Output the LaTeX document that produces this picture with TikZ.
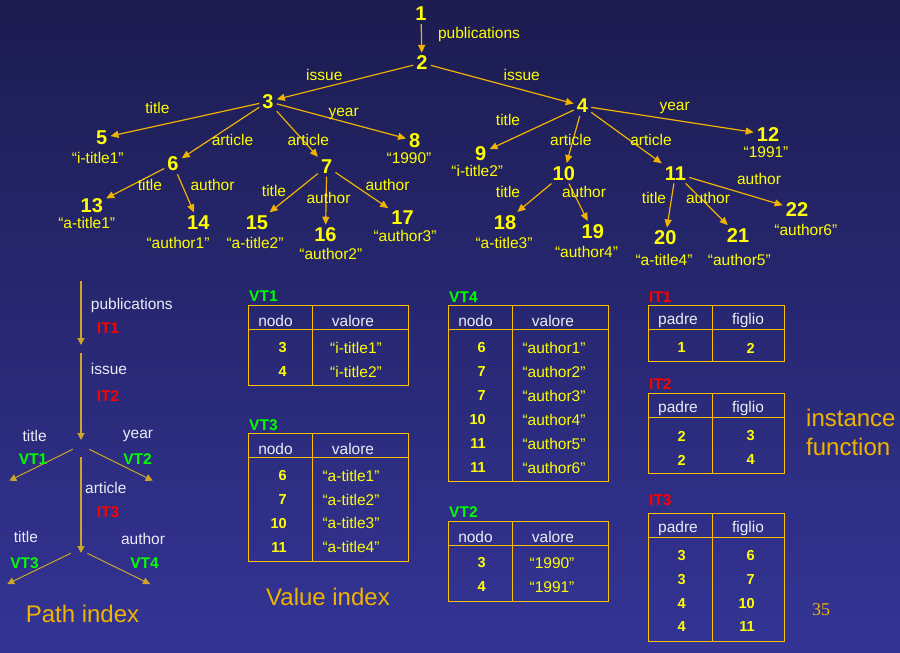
\documentclass[tikz,border=0pt]{standalone}
\usepackage{fontspec}
\setmainfont{Liberation Sans}
\newfontfamily\serifnum{Liberation Serif}
\usetikzlibrary{arrows.meta}
\definecolor{bgtop}{RGB}{28,28,80}
\definecolor{bgbot}{RGB}{52,52,150}
\definecolor{gold}{RGB}{240,180,0}
\definecolor{tabgold}{RGB}{255,192,0}
\definecolor{pathgold}{RGB}{205,165,40}
\definecolor{yel}{RGB}{255,255,0}
\definecolor{grn}{RGB}{0,255,0}
\definecolor{rd}{RGB}{255,0,0}
\definecolor{wht}{RGB}{235,235,245}
\begin{document}
\begin{tikzpicture}[x=1pt,y=-1pt,
 num/.style={font=\fontsize{20}{20}\selectfont\bfseries, text=yel, inner sep=3pt},
 val/.style={font=\fontsize{15.5}{16}\selectfont, text=yel, inner sep=0pt},
 elab/.style={font=\fontsize{15.5}{16}\selectfont, text=yel, inner sep=0pt},
 arr/.style={draw=gold, line width=1.2pt, -{Triangle[length=8pt,width=7pt]}},
 parr/.style={draw=pathgold, line width=1.2pt, -{Triangle[length=7pt,width=7pt]}},
 plab/.style={font=\fontsize{15.5}{16}\selectfont, text=wht, inner sep=0pt},
 itlab/.style={font=\fontsize{15.5}{16}\selectfont\bfseries, text=rd, inner sep=0pt},
 vtlab/.style={font=\fontsize{15.5}{16}\selectfont\bfseries, text=grn, inner sep=0pt},
 big/.style={font=\fontsize{24}{26}\selectfont, text=gold, inner sep=0pt},
 tab/.style={draw=tabgold, line width=1pt},
 thd/.style={font=\fontsize{15.5}{16}\selectfont, text=wht, inner sep=0pt},
 tnum/.style={font=\fontsize{14.5}{15}\selectfont\bfseries, text=yel, inner sep=0pt, anchor=east},
 tval/.style={font=\fontsize{15.5}{16}\selectfont, text=yel, inner sep=0pt},
]
\useasboundingbox (0,0) rectangle (900,653);
\shade[top color=bgtop, bottom color=bgbot] (0,0) rectangle (900,653);

% ---------- tree nodes ----------
\node[num] (n1) at (421,14) {1};
\node[num] (n2) at (422,63) {2};
\node[num] (n3) at (268,101.5) {3};
\node[num] (n4) at (582.5,106) {4};
\node[num] (n5) at (101.7,138) {5};
\node[num] (n6) at (173,164) {6};
\node[num] (n7) at (326.7,166.5) {7};
\node[num] (n8) at (414.8,140.8) {8};
\node[num] (n9) at (480.8,153.3) {9};
\node[num] (n10) at (563.8,173.3) {10};
\node[num] (n11) at (675.5,173.3) {11};
\node[num] (n12) at (768,134.5) {12};
\node[num] (n13) at (91.8,205.8) {13};
\node[num] (n14) at (198.3,222.5) {14};
\node[num] (n15) at (257,222.5) {15};
\node[num] (n16) at (325.5,235) {16};
\node[num] (n17) at (402.5,217.8) {17};
\node[num] (n18) at (505,222.2) {18};
\node[num] (n19) at (592.8,231.2) {19};
\node[num] (n20) at (665.3,237.8) {20};
\node[num] (n21) at (738,235.3) {21};
\node[num] (n22) at (797,209.5) {22};

\node[val] (v5) at (97.8,158) {“i-title1”};
\node[val] (v8) at (409,158) {“1990”};
\node[val] (v9) at (477.3,170.8) {“i-title2”};
\node[val] (v12) at (766,152) {“1991”};
\node[val] (v13) at (86.7,223) {“a-title1”};
\node[val] (v14) at (178,242.5) {“author1”};
\node[val] (v15) at (255,242.5) {“a-title2”};
\node[val] (v16) at (330.8,253.7) {“author2”};
\node[val] (v17) at (405,235.5) {“author3”};
\node[val] (v18) at (504,243.3) {“a-title3”};
\node[val] (v19) at (586.5,251.7) {“author4”};
\node[val] (v20) at (664,260) {“a-title4”};
\node[val] (v21) at (739.3,260) {“author5”};
\node[val] (v22) at (805.8,230) {“author6”};

% ---------- tree edges ----------
\draw[arr] (n1) -- (n2);
\draw[arr] (n2) -- (n3);
\draw[arr] (n2) -- (n4);
\draw[arr] (n3) -- (n5);
\draw[arr] (n3) -- (n6);
\draw[arr] (n3) -- (n7);
\draw[arr] (n3) -- (n8);
\draw[arr] (n6) -- (n13);
\draw[arr] (n6) -- (n14);
\draw[arr] (n7) -- (n15);
\draw[arr] (n7) -- (n16);
\draw[arr] (n7) -- (n17);
\draw[arr] (n4) -- (n9);
\draw[arr] (n4) -- (n10);
\draw[arr] (n4) -- (n11);
\draw[arr] (n4) -- (n12);
\draw[arr] (n10) -- (n18);
\draw[arr] (n10) -- (n19);
\draw[arr] (n11) -- (n20);
\draw[arr] (n11) -- (n21);
\draw[arr] (n11) -- (n22);

% ---------- edge labels ----------
\node[elab] (l12) at (479,34) {publications};
\node[elab] (l23) at (324.3,75) {issue};
\node[elab] (l24) at (521.7,75) {issue};
\node[elab] (l35) at (157.5,107.5) {title};
\node[elab] (l38) at (343.7,114) {year};
\node[elab] (l36) at (232.5,139.5) {article};
\node[elab] (l37) at (308.3,139.5) {article};
\node[elab] (l613) at (150,184.5) {title};
\node[elab] (l614) at (212.5,184.5) {author};
\node[elab] (l715) at (274,191) {title};
\node[elab] (l716) at (328.5,198) {author};
\node[elab] (l717) at (387.5,184.5) {author};
\node[elab] (l49) at (508,119.7) {title};
\node[elab] (l412) at (674.7,108) {year};
\node[elab] (l410) at (570.8,139.5) {article};
\node[elab] (l411) at (651,139.5) {article};
\node[elab] (l1018) at (508,191.7) {title};
\node[elab] (l1019) at (584,191.7) {author};
\node[elab] (l1120) at (654,197.8) {title};
\node[elab] (l1121) at (708,197.8) {author};
\node[elab] (l1122) at (759,178.8) {author};

% ---------- path index ----------
\coordinate (p0) at (81,281);
\coordinate (p1) at (81,345);
\coordinate (p2) at (81,353);
\coordinate (p3) at (81,440);
\coordinate (p4) at (81,457);
\coordinate (p5) at (81,553);
\coordinate (d1s) at (72.7,449.3); \coordinate (d1e) at (9.3,480.7);
\coordinate (d2s) at (89.3,449.3); \coordinate (d2e) at (152.7,480.7);
\coordinate (d3s) at (70.7,553.3); \coordinate (d3e) at (7.3,584);
\coordinate (d4s) at (87.3,553.3); \coordinate (d4e) at (150,584);
\draw[parr] (p0) -- (p1);
\draw[parr] (p2) -- (p3);
\draw[parr] (p4) -- (p5);
\draw[parr, line width=1pt] (d1s) -- (d1e);
\draw[parr, line width=1pt] (d2s) -- (d2e);
\draw[parr, line width=1pt] (d3s) -- (d3e);
\draw[parr, line width=1pt] (d4s) -- (d4e);

\node[plab, anchor=west] (pl1) at (90.7,305) {publications};
\node[itlab, anchor=west] (it1l) at (96.7,328) {IT1};
\node[plab, anchor=west] (pl2) at (90.7,369) {issue};
\node[itlab, anchor=west] (it2l) at (96.7,396) {IT2};
\node[plab] (pl3) at (34.7,435.7) {title};
\node[vtlab] (vt1l) at (33,459) {VT1};
\node[plab] (pl4) at (138,436.3) {year};
\node[vtlab] (vt2l) at (137.5,459) {VT2};
\node[plab, anchor=west] (pl5) at (85,488) {article};
\node[itlab, anchor=west] (it3l) at (96.7,512) {IT3};
\node[plab] (pl6) at (26,536.7) {title};
\node[vtlab] (vt3l) at (24.5,563) {VT3};
\node[plab] (pl7) at (143,539) {author};
\node[vtlab] (vt4l) at (144.5,563) {VT4};
\node[big] (pidx) at (82.5,614) {Path index};

% ---------- VT1 ----------
\node[vtlab, anchor=west] (vt1) at (249,296) {VT1};
\draw[tab] (248,305) rectangle (408,385);
\draw[tab] (248,329) -- (408,329) (312,305) -- (312,385);
\node[thd] (vt1h1) at (275.5,320.5) {nodo};
\node[thd] (vt1h2) at (353,320.5) {valore};
\node[tnum] (vt1a1) at (287,348) {3};
\node[tnum] (vt1a2) at (287,372) {4};
\node[tval] (vt1b1) at (356,348) {“i-title1”};
\node[tval] (vt1b2) at (356,372) {“i-title2”};

% ---------- VT3 ----------
\node[vtlab, anchor=west] (vt3) at (249,425) {VT3};
\draw[tab] (248,433) rectangle (408,561);
\draw[tab] (248,457) -- (408,457) (312,433) -- (312,561);
\node[thd] (vt3h1) at (275.5,448.7) {nodo};
\node[thd] (vt3h2) at (353,448.7) {valore};
\node[tnum] (vt3a1) at (287,476) {6};
\node[tnum] (vt3a2) at (287,499.5) {7};
\node[tnum] (vt3a3) at (287,523.3) {10};
\node[tnum] (vt3a4) at (287,547.3) {11};
\node[tval] (vt3b1) at (351,476) {“a-title1”};
\node[tval] (vt3b2) at (351,499.5) {“a-title2”};
\node[tval] (vt3b3) at (351,523.3) {“a-title3”};
\node[tval] (vt3b4) at (351,547.3) {“a-title4”};
\node[big] (vidx) at (328,597) {Value index};

% ---------- VT4 ----------
\node[vtlab, anchor=west] (vt4) at (449,297) {VT4};
\draw[tab] (448,305) rectangle (608,481);
\draw[tab] (448,329) -- (608,329) (512,305) -- (512,481);
\node[thd] (vt4h1) at (475.5,320.5) {nodo};
\node[thd] (vt4h2) at (553,320.5) {valore};
\node[tnum] (vt4a1) at (486,348) {6};
\node[tnum] (vt4a2) at (486,372) {7};
\node[tnum] (vt4a3) at (486,396) {7};
\node[tnum] (vt4a4) at (486,420) {10};
\node[tnum] (vt4a5) at (486,444) {11};
\node[tnum] (vt4a6) at (486,468) {11};
\node[tval] (vt4b1) at (554,348) {“author1”};
\node[tval] (vt4b2) at (554,372) {“author2”};
\node[tval] (vt4b3) at (554,396) {“author3”};
\node[tval] (vt4b4) at (554,420) {“author4”};
\node[tval] (vt4b5) at (554,444) {“author5”};
\node[tval] (vt4b6) at (554,468) {“author6”};

% ---------- VT2 ----------
\node[vtlab, anchor=west] (vt2) at (449,512) {VT2};
\draw[tab] (448,521) rectangle (608,601);
\draw[tab] (448,545.7) -- (608,545.7) (512,521) -- (512,601);
\node[thd] (vt2h1) at (475.5,536.7) {nodo};
\node[thd] (vt2h2) at (553,536.7) {valore};
\node[tnum] (vt2a1) at (486,563) {3};
\node[tnum] (vt2a2) at (486,587) {4};
\node[tval] (vt2b1) at (552,563) {“1990”};
\node[tval] (vt2b2) at (552,587) {“1991”};

% ---------- IT1 ----------
\node[itlab, anchor=west] (it1) at (649,297) {IT1};
\draw[tab] (648,305) rectangle (784,361);
\draw[tab] (648,329) -- (784,329) (712,305) -- (712,361);
\node[thd] (it1h1) at (678,320.5) {padre};
\node[thd] (it1h2) at (748,320.5) {figlio};
\node[tnum] (it1a1) at (686,348) {1};
\node[tnum] (it1b1) at (755,348) {2};

% ---------- IT2 ----------
\node[itlab, anchor=west] (it2) at (649,384) {IT2};
\draw[tab] (648,393) rectangle (784,473);
\draw[tab] (648,417) -- (784,417) (712,393) -- (712,473);
\node[thd] (it2h1) at (678,408) {padre};
\node[thd] (it2h2) at (748,408) {figlio};
\node[tnum] (it2a1) at (686,436) {2};
\node[tnum] (it2a2) at (686,460) {2};
\node[tnum] (it2b1) at (755,436) {3};
\node[tnum] (it2b2) at (755,460) {4};

% ---------- IT3 ----------
\node[itlab, anchor=west] (it3) at (649,500) {IT3};
\draw[tab] (648,513) rectangle (784,641);
\draw[tab] (648,537) -- (784,537) (712,513) -- (712,641);
\node[thd] (it3h1) at (678,528) {padre};
\node[thd] (it3h2) at (748,528) {figlio};
\node[tnum] (it3a1) at (686,556) {3};
\node[tnum] (it3a2) at (686,580) {3};
\node[tnum] (it3a3) at (686,604) {4};
\node[tnum] (it3a4) at (686,627) {4};
\node[tnum] (it3b1) at (755,556) {6};
\node[tnum] (it3b2) at (755,580) {7};
\node[tnum] (it3b3) at (755,604) {10};
\node[tnum] (it3b4) at (755,627) {11};

\node[big, anchor=west] (inst1) at (806,418) {instance};
\node[big, anchor=west] (inst2) at (806,447) {function};
\node[font=\serifnum\fontsize{18}{18}\selectfont, text=gold, inner sep=0pt] (pg) at (821,610) {35};
\end{tikzpicture}
\end{document}
